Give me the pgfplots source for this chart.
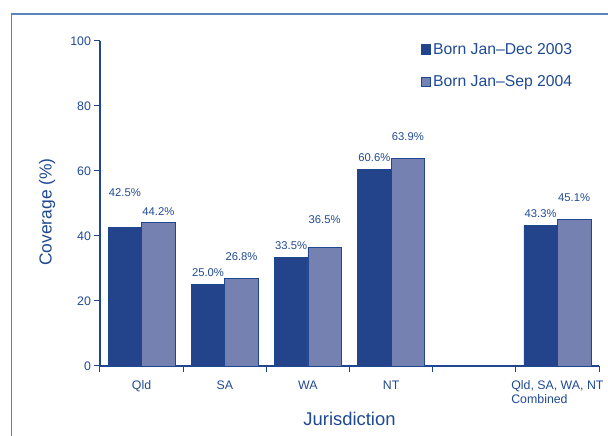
\documentclass[border=0pt]{standalone}
\usepackage{fontspec}
\setmainfont{Liberation Sans}
\usepackage{pgfplots}
\pgfplotsset{compat=1.18}
\definecolor{darkbar}{HTML}{23448A}
\definecolor{lightbar}{HTML}{7581B1}
\definecolor{txt}{HTML}{1F4A92}
\definecolor{axcol}{HTML}{1F4690}
\definecolor{framecol}{HTML}{5A84B8}
\begin{document}
\begin{tikzpicture}
\useasboundingbox (0,0) rectangle (608bp,436bp);
\draw[framecol, line width=1.5bp] (11.5bp,-2bp) -- (11.5bp,422bp) -- (610bp,422bp);
\begin{axis}[
  at={(100bp,70bp)}, anchor=south west,
  scale only axis, width=499bp, height=325bp,
  xmin=-0.5, xmax=5.5, ymin=0, ymax=100,
  axis x line*=bottom, axis y line*=left,
  axis line style={axcol, line width=1.2bp},
  ybar=0pt, bar width=33.5bp,
  xtick={-0.5,0.5,1.5,2.5,3.5,4.5,5.5}, xticklabels={},
  extra x ticks={0,1,2,3,5},
  extra x tick labels={Qld,SA,WA,NT,{Qld, SA, WA, NT\\Combined}},
  extra x tick style={major tick length=0pt, tick label style={align=left, anchor=north, yshift=-11bp}},
  ytick={0,20,40,60,80,100},
  tick align=outside, major tick length=5.5bp,
  tick style={axcol, line width=1bp},
  tick label style={font=\fontsize{12.4}{14.5}\selectfont, text=txt},
  /pgf/number format/assume math mode=true,
  ylabel={Coverage (\%)},
  ylabel style={at={(axis description cs:-0.106,0.474)}, anchor=center, font=\fontsize{17.5}{20}\selectfont, text=txt},
  xlabel={Jurisdiction},
  xlabel style={at={(axis description cs:0.5,-0.163)}, anchor=center, font=\fontsize{18.5}{21}\selectfont, text=txt},
  legend style={at={(rel axis cs:0.637,1.006)}, anchor=north west, draw=none, fill=none,
    font=\fontsize{15.8}{18}\selectfont, text=txt, row sep=16bp},
  legend cell align=left,
  clip=false,
]
\addplot[fill=darkbar, draw=axcol, line width=0.8bp,
  legend image code/.code={\draw[fill=darkbar, draw=axcol, line width=0.6bp] (0bp,-4.7bp) rectangle (9.4bp,4.7bp);}]
  coordinates {(0,42.5) (1,25.0) (2,33.5) (3,60.6) (5,43.3)};
\addplot[fill=lightbar, draw=axcol, line width=0.8bp,
  legend image code/.code={\draw[fill=lightbar, draw=axcol, line width=0.6bp] (0bp,-4.7bp) rectangle (9.4bp,4.7bp);}]
  coordinates {(0,44.2) (1,26.8) (2,36.5) (3,63.9) (5,45.1)};
\legend{Born Jan--Dec 2003, Born Jan--Sep 2004}
\begin{scope}[every node/.style={font=\fontsize{11.3}{13}\selectfont, text=txt}]
\node[xshift=-16.75bp] at (axis cs:0,53.2) {42.5\%};
\node[xshift=16.75bp] at (axis cs:0,47.4) {44.2\%};
\node[xshift=-16.75bp] at (axis cs:1,28.6) {25.0\%};
\node[xshift=16.75bp] at (axis cs:1,33.8) {26.8\%};
\node[xshift=-16.75bp] at (axis cs:2,36.9) {33.5\%};
\node[xshift=16.75bp] at (axis cs:2,44.9) {36.5\%};
\node[xshift=-16.75bp] at (axis cs:3,64.0) {60.6\%};
\node[xshift=16.75bp] at (axis cs:3,70.5) {63.9\%};
\node[xshift=-16.75bp] at (axis cs:5,46.8) {43.3\%};
\node[xshift=16.75bp] at (axis cs:5,51.7) {45.1\%};
\end{scope}
\end{axis}
\end{tikzpicture}
\end{document}
